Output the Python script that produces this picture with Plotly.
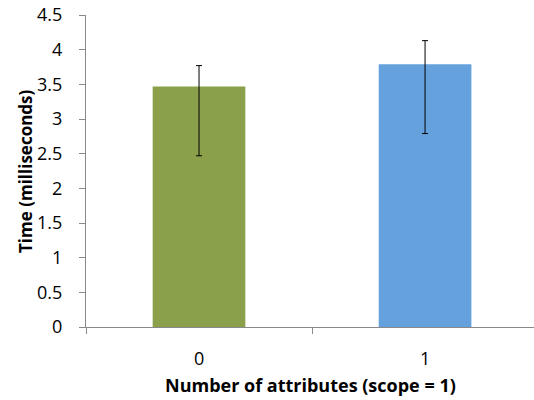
import plotly.graph_objects as go

categories = ["0", "1"]
values = [3.47, 3.79]
err_plus = [0.30, 0.34]
err_minus = [1.00, 1.00]
colors = ["#8aa04b", "#64a1dd"]
y_ticks = [0, 0.5, 1, 1.5, 2, 2.5, 3, 3.5, 4, 4.5]
x_title = "Number of attributes (scope = 1)"
y_title = "Time (milliseconds)"

fig = go.Figure()
fig.add_trace(go.Bar(
    x=categories, y=values,
    marker=dict(color=colors, line=dict(width=0)),
    width=0.41,
    error_y=dict(type="data", symmetric=False, array=err_plus, arrayminus=err_minus,
                 color="black", thickness=1, width=3),
))

font = "Open Sans, Liberation Sans, sans-serif"
fig.update_layout(
    width=534, height=400,
    margin=dict(l=86, r=0, t=15, b=73),
    paper_bgcolor="white", plot_bgcolor="white",
    showlegend=False,
    font=dict(family=font, color="black", size=18),
    xaxis=dict(
        type="category", range=[-0.5, 1.482], automargin=False,
        showline=True, linecolor="#898989", linewidth=1,
        ticks="outside", tickson="boundaries", ticklen=6, tickcolor="#898989",
        tickfont=dict(size=18), ticklabelstandoff=15,
        showgrid=False, zeroline=False,
    ),
    yaxis=dict(
        range=[0, 4.5], tickvals=y_ticks, ticktext=[f"{v:g}" for v in y_ticks],
        automargin=False,
        showline=True, linecolor="#898989", linewidth=1,
        ticks="outside", ticklen=6, tickcolor="#898989",
        tickfont=dict(size=18), ticklabelstandoff=13,
        showgrid=False, zeroline=False,
    ),
    annotations=[
        dict(text=f"<b>{x_title}</b>", xref="paper", yref="paper", x=0.5, y=0,
             xanchor="center", yanchor="middle", yshift=-58, showarrow=False,
             font=dict(size=18)),
        dict(text=f"<b>{y_title}</b>", xref="paper", yref="paper", x=0, y=0.5,
             xanchor="center", yanchor="middle", xshift=-61, textangle=-90,
             showarrow=False, font=dict(size=17)),
    ],
)

fig.write_html("out.html", config={"displayModeBar": False},
               post_script="document.body.style.margin='0';document.body.style.overflow='hidden';")
